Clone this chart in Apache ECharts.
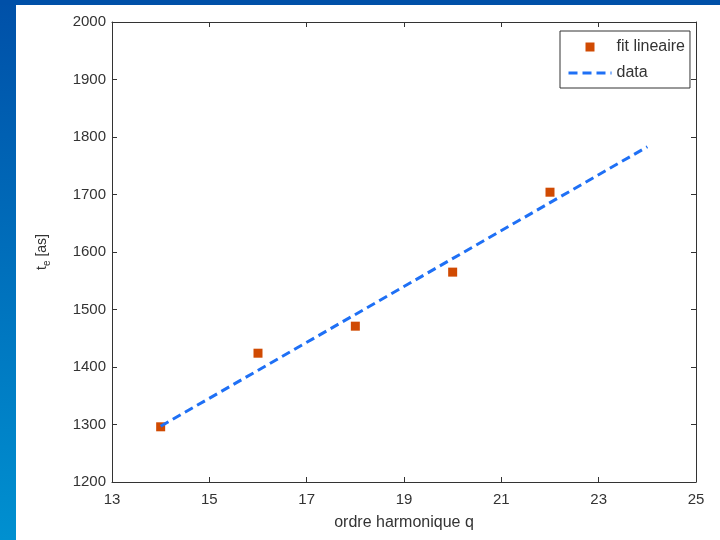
<!DOCTYPE html>
<html>
<head>
<meta charset="utf-8">
<script src="https://cdn.jsdelivr.net/npm/echarts@6/dist/echarts.min.js"></script>
<style>html,body{margin:0;padding:0;background:#fff}#c{width:720px;height:540px}</style>
</head>
<body>
<div id="c"></div>
<script>
const harmonics = [14, 16, 18, 20, 22];
const delays = [1296, 1424, 1471, 1565, 1704];
const fitX = [14, 24];
const fitY = [1297, 1783];
const xTicks = [13, 15, 17, 19, 21, 23, 25];
const yTicks = [1200, 1300, 1400, 1500, 1600, 1700, 1800, 1900, 2000];

const chart = echarts.init(document.getElementById('c'));
const font = 'Liberation Sans, Arial, sans-serif';
const axisCommon = {
  axisLine: { show: true, lineStyle: { color: '#333', width: 1 } },
  axisTick: { show: true, inside: true, length: 5, lineStyle: { color: '#333' } },
  splitLine: { show: false }
};
chart.setOption({
  animation: false,
  backgroundColor: '#fff',
  graphic: [
    { type: 'rect', left: 0, top: 0, shape: { width: 16, height: 540 },
      style: { fill: new echarts.graphic.LinearGradient(0, 0, 0, 1, [
        { offset: 0, color: '#0050A8' }, { offset: 1, color: '#0090D0' }]) } },
    { type: 'rect', left: 0, top: 0, shape: { width: 720, height: 5 }, style: { fill: '#0050A8' } }
  ],
  grid: { left: 112, right: 24, top: 22, bottom: 58 },
  xAxis: [
    Object.assign({
      type: 'value', min: xTicks[0], max: xTicks[xTicks.length - 1], interval: 2,
      name: 'ordre harmonique q', nameLocation: 'middle', nameGap: 33,
      nameTextStyle: { fontFamily: font, fontSize: 16, color: '#333' },
      axisLabel: { fontFamily: font, fontSize: 15, color: '#333', margin: 10 }
    }, axisCommon),
    Object.assign({
      type: 'value', position: 'top', min: xTicks[0], max: xTicks[xTicks.length - 1], interval: 2,
      axisLabel: { show: false }
    }, axisCommon)
  ],
  yAxis: [
    Object.assign({
      type: 'value', min: yTicks[0], max: yTicks[yTicks.length - 1], interval: 100,
      name: '{a|t}{e|e}{a| [as]}', nameLocation: 'middle', nameGap: 60, nameRotate: 90,
      nameTextStyle: { fontFamily: font, color: '#333',
        rich: { a: { fontSize: 14, fontFamily: font, color: '#333' },
                e: { fontSize: 10, fontFamily: font, color: '#333', padding: [9, 0, 0, 0] } } },
      axisLabel: { fontFamily: font, fontSize: 15, color: '#333', margin: 6,
        formatter: v => String(v) }
    }, axisCommon),
    Object.assign({
      type: 'value', position: 'right', min: yTicks[0], max: yTicks[yTicks.length - 1], interval: 100,
      axisLabel: { show: false }
    }, axisCommon)
  ],
  legend: {
    orient: 'vertical', left: 560, top: 31,
    backgroundColor: '#fff', borderColor: '#333', borderWidth: 1,
    padding: [8, 5, 7, 7], itemGap: 10, itemWidth: 43, itemHeight: 9,
    textStyle: { fontFamily: font, fontSize: 16, color: '#333' },
    data: [
      { name: 'fit lineaire', icon: 'path://M0,0L10,0L10,10L0,10Z' },
      { name: 'data', itemStyle: { opacity: 0 }, lineStyle: { width: 3, type: [9, 5] } }
    ]
  },
  series: [
    { name: 'fit lineaire', type: 'scatter', symbol: 'rect', symbolSize: 9, symbolKeepAspect: true,
      itemStyle: { color: '#D04A02', opacity: 1 },
      data: harmonics.map((h, i) => [h, delays[i]]) },
    { name: 'data', type: 'line', symbol: 'none', showSymbol: false,
      lineStyle: { color: '#1F70F5', width: 3, type: [9, 5] },
      itemStyle: { color: '#1F70F5' },
      data: fitX.map((x, i) => [x, fitY[i]]) }
  ]
});
</script>
</body>
</html>
